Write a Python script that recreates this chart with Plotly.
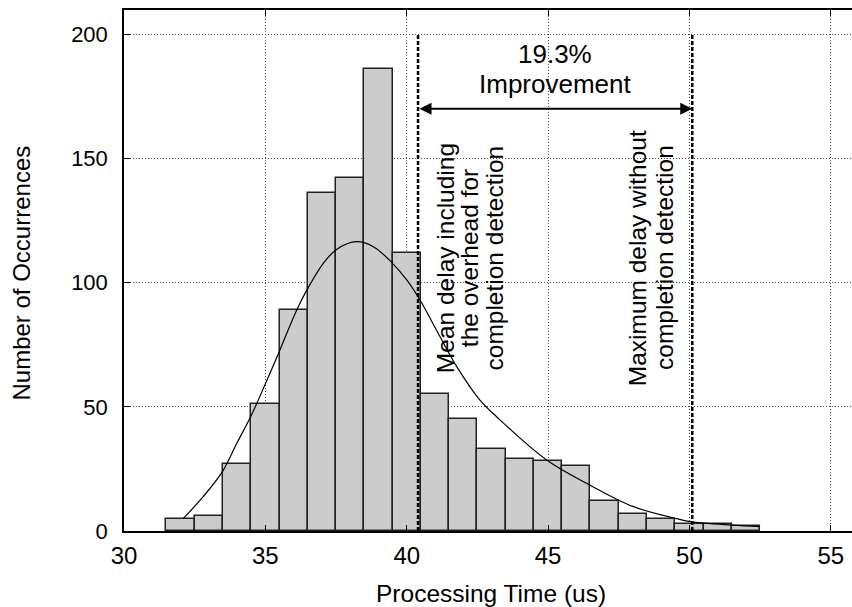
import plotly.graph_objects as go

# Histogram data
bin_centers = [32, 33, 34, 35, 36, 37, 38, 39, 40, 41, 42, 43, 44, 45, 46, 47, 48, 49, 50, 51, 52]
counts = [5, 6, 27, 51, 89, 136, 142, 186, 112, 55, 45, 33, 29, 28, 26, 12, 7, 5, 3, 3, 2]

# Fitted distribution curve
curve_x = [32.1, 32.8, 33.48, 33.99, 34.48, 34.75, 35.49, 36.11, 36.52, 37.05, 37.52, 38.23,
           38.82, 39.5, 40.0, 40.47, 41.18, 41.77, 42.59, 43.18, 44.95, 46.48, 48.02, 49.5,
           50.02, 51.5, 52.5]
curve_y = [5.1, 13.8, 23.9, 35.3, 46.0, 52.7, 72.2, 89.0, 98.1, 107.8, 113.4, 116.5,
           114.5, 107.8, 101.1, 93.0, 78.2, 66.2, 52.7, 46.0, 28.6, 18.5, 9.8, 5.1,
           3.8, 2.4, 1.8]

# Reference markers
mean_delay = 40.4
max_delay = 50.1
marker_top = 200
arrow_y = 170

x_ticks = [30, 35, 40, 45, 50, 55]
y_ticks = [0, 50, 100, 150, 200]

x_title = "Processing Time (us)"
y_title = "Number of Occurrences"

FONT = "Liberation Sans, Arial, Helvetica, sans-serif"

fig = go.Figure()

fig.add_trace(go.Bar(
    x=bin_centers, y=counts, width=1.0,
    marker=dict(color="#cccccc", line=dict(color="#222222", width=1.5)),
    showlegend=False, hoverinfo="skip",
))

fig.add_trace(go.Scatter(
    x=curve_x, y=curve_y, mode="lines",
    line=dict(color="black", width=1.2, shape="spline", smoothing=1.0),
    showlegend=False, hoverinfo="skip",
))

for xv in [mean_delay, max_delay]:
    fig.add_trace(go.Scatter(
        x=[xv, xv], y=[0, marker_top], mode="lines",
        line=dict(color="black", width=2.5, dash="4px,2px"),
        showlegend=False, hoverinfo="skip",
    ))

# double-headed arrow
fig.add_annotation(
    x=max_delay, y=arrow_y, ax=mean_delay, ay=arrow_y,
    xref="x", yref="y", axref="x", ayref="y",
    text="", showarrow=True, arrowhead=2, arrowside="end+start",
    arrowsize=1.2, arrowwidth=2, arrowcolor="black",
)

mid = (mean_delay + max_delay) / 2
ann_font = dict(family=FONT, size=26, color="black")
fig.add_annotation(x=mid, y=192.2, xref="x", yref="y", text="19.3%",
                   showarrow=False, font=ann_font)
fig.add_annotation(x=mid, y=180.2, xref="x", yref="y", text="Improvement",
                   showarrow=False, font=ann_font)

rot_font = dict(family=FONT, size=24.5, color="black")
rot_lines = [
    ("Mean delay including", 41.4),
    ("the overhead for", 42.25),
    ("completion detection", 43.11),
    ("Maximum delay without", 48.16),
    ("completion detection", 49.14),
]
for txt, xv in rot_lines:
    fig.add_annotation(x=xv, y=110, xref="x", yref="y", text=txt,
                       showarrow=False, textangle=-90, font=rot_font)

# axis titles
fig.add_annotation(x=0.5048, y=-0.1209, xref="paper", yref="paper", text=x_title,
                   showarrow=False, font=dict(family=FONT, size=24.5, color="black"),
                   xanchor="center", yanchor="middle")
fig.add_annotation(x=-0.1401, y=0.4942, xref="paper", yref="paper", text=y_title,
                   showarrow=False, textangle=-90,
                   font=dict(family=FONT, size=24, color="black"),
                   xanchor="center", yanchor="middle")

fig.update_layout(
    width=852, height=607,
    margin=dict(l=124, r=0, t=10, b=76),
    paper_bgcolor="white", plot_bgcolor="white",
    font=dict(family=FONT, size=22, color="black"),
    bargap=0,
)

fig.update_xaxes(
    range=[30, 55.75], tickvals=x_ticks, ticktext=[str(v) for v in x_ticks],
    automargin=False,
    showline=True, linecolor="black", linewidth=1.5, mirror="ticks",
    ticks="inside", ticklen=6, tickcolor="black", tickwidth=1,
    showgrid=True, gridcolor="#444444", gridwidth=1, griddash="1px,2px",
    zeroline=False, tickfont=dict(size=24),
    ticklabelstandoff=2,
)
fig.update_yaxes(
    range=[0, 209.8], tickvals=y_ticks, ticktext=[str(v) for v in y_ticks],
    automargin=False,
    showline=True, linecolor="black", linewidth=1.5, mirror=False,
    ticks="inside", ticklen=6, tickcolor="black", tickwidth=1,
    showgrid=True, gridcolor="#444444", gridwidth=1, griddash="1px,2px",
    zeroline=False, tickfont=dict(size=22),
    ticklabelstandoff=10,
)

fig.write_html(
    "out.html",
    config={"displayModeBar": False},
    post_script="document.body.style.margin='0';document.body.style.overflow='hidden';",
)
